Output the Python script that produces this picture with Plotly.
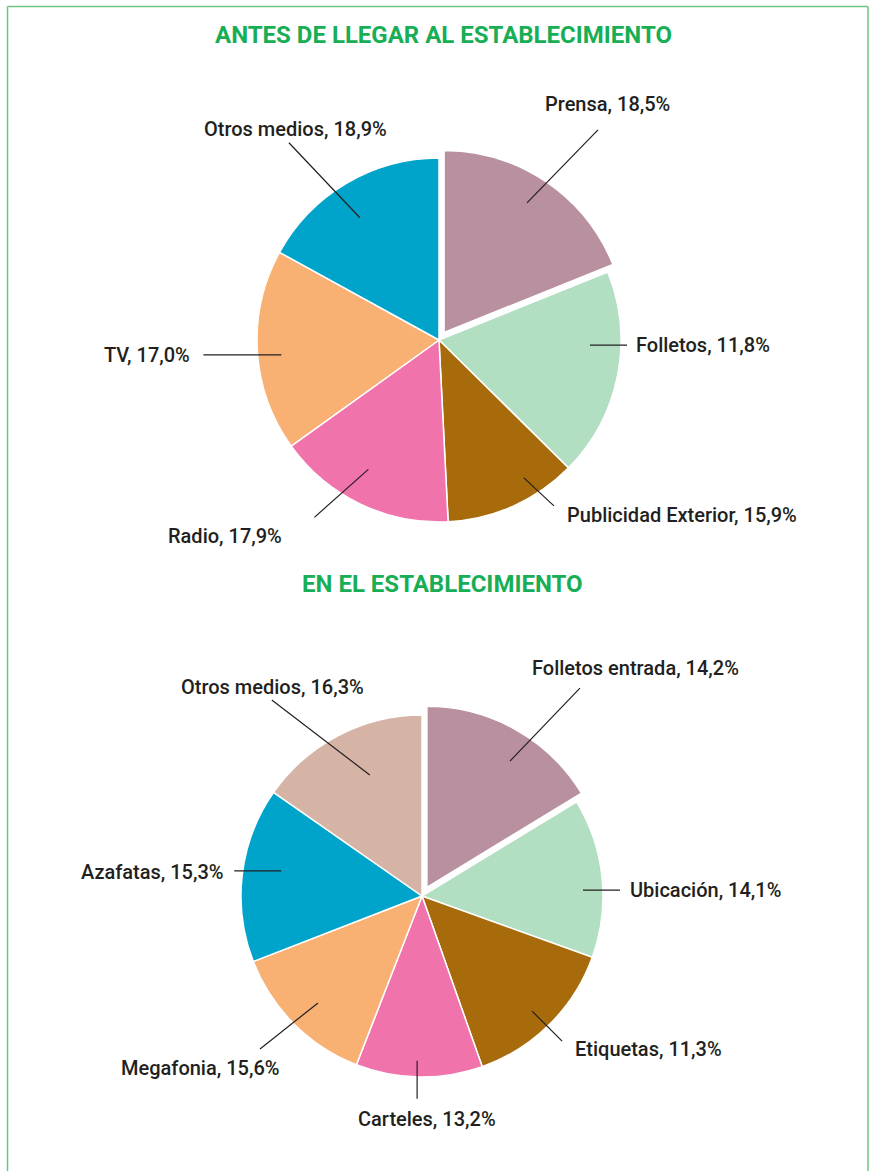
import math
import plotly.graph_objects as go

W, H = 874, 1171

# ---------------- data ----------------
top_title = "ANTES DE LLEGAR AL ESTABLECIMIENTO"
top_labels = ["Prensa", "Folletos", "Publicidad Exterior", "Radio", "TV", "Otros medios"]
top_label_pct = [18.5, 11.8, 15.9, 17.9, 17.0, 18.9]
# slice sizes as drawn, clockwise from 12 o'clock
top_slice_values = [18.9, 18.5, 11.8, 15.9, 17.9, 17.0]

bottom_title = "EN EL ESTABLECIMIENTO"
bottom_labels = ["Folletos entrada", "Ubicación", "Etiquetas", "Carteles",
                 "Megafonia", "Azafatas", "Otros medios"]
bottom_label_pct = [14.2, 14.1, 11.3, 13.2, 15.6, 15.3, 16.3]
bottom_slice_values = [16.3, 14.2, 14.1, 11.3, 13.2, 15.6, 15.3]

# ---------------- styles ----------------
top_colors = ["#B8909F", "#B2DEC2", "#A86B0B", "#F173AC", "#F8B073", "#00A4CB"]
bottom_colors = ["#B8909F", "#B2DEC2", "#A86B0B", "#F173AC", "#F8B073", "#00A4CB", "#D5B3A5"]
top_pull = [0.05, 0, 0, 0, 0, 0]
bottom_pull = [0.055, 0, 0, 0, 0, 0, 0]

top_geom = dict(cx=439, cy=340, r=182)
bottom_geom = dict(cx=422, cy=896, r=181)

# per label: angle nudge, radius fraction, leader vector, text offset, xanchor
top_label_layout = [
    (-1.4, 0.845, 71, -73, 10, -26, "center"),
    (-9.4, 0.83, 37, 0, 7, 0, "left"),
    (-7.5, 0.89, 30, 28, 11, 9, "left"),
    (2.9, 0.81, -54, 48, -30, 19, "right"),
    (-2.0, 0.87, -78, 0, -11, 0, "right"),
    (-2.3, 0.80, -71, -75, 7, -14, "center"),
]
bottom_label_layout = [
    (4.0, 0.835, 70, -73, 56, -20, "center"),
    (3.7, 0.89, 37, 0, 8, 0, "left"),
    (1.1, 0.88, 30, 30, 11, 8, "left"),
    (0.8, 0.91, 0, 38, 10, 20, "center"),
    (-0.8, 0.824, -58, 46, -60, 19, "center"),
    (3.3, 0.79, -47, 0, -8, 1, "right"),
    (4.2, 0.728, -98, -75, 1, -13, "center"),
]

TEXT_COLOR = "#231F20"
TITLE_COLOR = "#17AE55"
BORDER_COLOR = "#6CC67F"
LABEL_FONT = dict(family="Roboto, Noto Sans, sans-serif", size=20, color=TEXT_COLOR, weight=500)
TITLE_FONT = dict(family="Roboto, sans-serif", size=24, color=TITLE_COLOR, weight="bold")


def X(px):
    return px / W


def Y(py):
    return 1 - py / H


fig = go.Figure()
shapes = []
annotations = []


def fmt(name, pct):
    return f"{name}, {pct:.1f}%".replace(".", ",")


def add_pie(geom, labels, label_pct, values, colors, pulls, layout):
    cx, cy, r = geom["cx"], geom["cy"], geom["r"]
    maxpull = max(pulls)
    half = r * (1 + maxpull)
    fig.add_trace(go.Pie(
        values=values, labels=labels,
        marker=dict(colors=colors, line=dict(color="white", width=1.5)),
        sort=False, direction="clockwise", rotation=0, pull=pulls,
        textinfo="none", hoverinfo="skip", showlegend=False,
        domain=dict(x=[X(cx - half), X(cx + half)], y=[Y(cy + half), Y(cy - half)]),
    ))
    total = sum(values)
    start = 0.0
    for i, v in enumerate(values):
        span = v / total * 360
        mid = start + span / 2
        start += span
        nudge, rfrac, ldx, ldy, tdx, tdy, xa = layout[i]
        pr = pulls[i] * r
        pcx = cx + pr * math.sin(math.radians(mid))
        pcy = cy - pr * math.cos(math.radians(mid))
        a = math.radians(mid + nudge)
        ix = pcx + rfrac * r * math.sin(a)
        iy = pcy - rfrac * r * math.cos(a)
        ox, oy = ix + ldx, iy + ldy
        shapes.append(dict(type="line", xref="paper", yref="paper",
                           x0=X(ix), y0=Y(iy), x1=X(ox), y1=Y(oy),
                           line=dict(color=TEXT_COLOR, width=1.2)))
        annotations.append(dict(text=fmt(labels[i], label_pct[i]), xref="paper", yref="paper",
                                x=X(ox + tdx), y=Y(oy + tdy), xanchor=xa, yanchor="middle",
                                showarrow=False, font=LABEL_FONT))


add_pie(top_geom, top_labels, top_label_pct, top_slice_values, top_colors, top_pull, top_label_layout)
add_pie(bottom_geom, bottom_labels, bottom_label_pct, bottom_slice_values, bottom_colors,
        bottom_pull, bottom_label_layout)

# titles
annotations.append(dict(text=top_title, xref="paper", yref="paper", x=X(443), y=Y(35),
                        xanchor="center", yanchor="middle", showarrow=False, font=TITLE_FONT))
annotations.append(dict(text=bottom_title, xref="paper", yref="paper", x=X(442), y=Y(584),
                        xanchor="center", yanchor="middle", showarrow=False, font=TITLE_FONT))

# frame (left, top, right)
for (x0, y0, x1, y1) in [(7.5, 6.5, 7.5, H + 2), (7.5, 6.5, 868, 6.5), (868, 6.5, 868, H + 2)]:
    shapes.append(dict(type="line", xref="paper", yref="paper",
                       x0=X(x0), y0=Y(y0), x1=X(x1), y1=Y(y1),
                       line=dict(color=BORDER_COLOR, width=1.5)))

fig.update_layout(
    width=W, height=H,
    margin=dict(l=0, r=0, t=0, b=0),
    paper_bgcolor="white", plot_bgcolor="white",
    shapes=shapes, annotations=annotations,
)

fig.write_html(
    "out.html",
    config={"displayModeBar": False},
    post_script="document.body.style.margin='0';document.body.style.overflow='hidden';",
)
